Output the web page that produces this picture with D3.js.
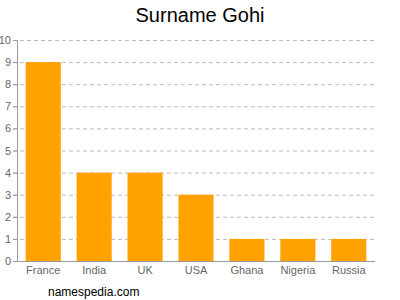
<!DOCTYPE html>
<html>
<head>
<meta charset="utf-8">
<script src="https://cdn.jsdelivr.net/npm/d3@7"></script>
<style>
  body { margin: 0; background: #fff; }
  svg { display: block; font-family: "Liberation Sans", Arial, sans-serif; }
</style>
</head>
<body>
<div id="wrapper"></div>
<script>
const countries = ["France", "India", "UK", "USA", "Ghana", "Nigeria", "Russia"];
const counts = [9, 4, 4, 3, 1, 1, 1];
const yTicks = [0, 1, 2, 3, 4, 5, 6, 7, 8, 9, 10];

const width = 400;
const height = 300;
const margin = { top: 40, right: 25, bottom: 39, left: 17 };
const boundedWidth = width - margin.left - margin.right;
const boundedHeight = height - margin.top - margin.bottom;

const svg = d3.select("#wrapper")
  .append("svg")
  .attr("width", width)
  .attr("height", height);

const bounds = svg.append("g")
  .attr("transform", `translate(${margin.left},${margin.top})`);

const xScale = d3.scaleBand()
  .domain(countries)
  .range([0, boundedWidth])
  .paddingInner(0.31)
  .paddingOuter(0.17);

const yScale = d3.scaleLinear()
  .domain([0, 10])
  .range([boundedHeight, 0]);

// grid lines
bounds.append("g")
  .selectAll("line")
  .data(yTicks.filter(d => d > 0))
  .join("line")
  .attr("x1", -4)
  .attr("x2", boundedWidth)
  .attr("y1", d => yScale(d) + 0.5)
  .attr("y2", d => yScale(d) + 0.5)
  .attr("stroke", "#bbb")
  .attr("stroke-dasharray", "4,3");

// bars
bounds.append("g")
  .selectAll("rect")
  .data(countries)
  .join("rect")
  .attr("x", d => xScale(d))
  .attr("width", xScale.bandwidth())
  .attr("y", (d, i) => yScale(counts[i]))
  .attr("height", (d, i) => boundedHeight - yScale(counts[i]))
  .attr("fill", "#ffa200");

// y axis
const yAxis = bounds.append("g")
  .call(d3.axisLeft(yScale).tickValues(yTicks).tickSize(4).tickPadding(2).tickFormat(d3.format("d")));
yAxis.select(".domain").attr("stroke", "#999").attr("d", `M0.5,0V${boundedHeight}`);
yAxis.selectAll(".tick line").attr("stroke", "#999");
yAxis.selectAll(".tick text").attr("fill", "#666").style("font-size", "11px");

// x axis
const xAxis = bounds.append("g")
  .attr("transform", `translate(0,${boundedHeight})`)
  .call(d3.axisBottom(xScale).tickSize(0).tickPadding(5));
xAxis.select(".domain").attr("stroke", "#999").attr("d", `M0,0.5H${boundedWidth}`);
xAxis.selectAll(".tick text").attr("fill", "#666").style("font-size", "11px");

// title
svg.append("text")
  .attr("x", 200)
  .attr("y", 22)
  .attr("text-anchor", "middle")
  .style("font-size", "20px")
  .attr("fill", "#000")
  .text("Surname Gohi");

// footer
svg.append("text")
  .attr("x", 48)
  .attr("y", 296)
  .style("font-size", "12px")
  .attr("fill", "#000")
  .text("namespedia.com");
</script>
</body>
</html>
